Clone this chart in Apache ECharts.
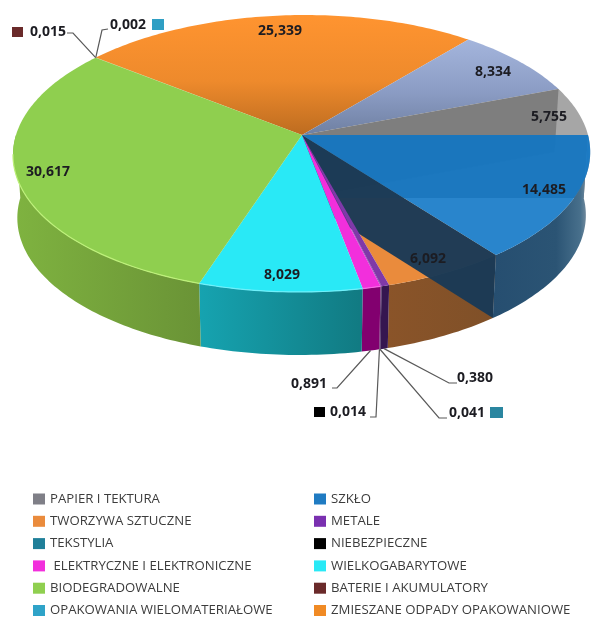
<!DOCTYPE html>
<html><head><meta charset="utf-8">
<style>html,body{margin:0;padding:0;background:#fff}#c{width:591px;height:617px}</style>
<script src="https://cdn.jsdelivr.net/npm/echarts@6/dist/echarts.min.js"></script>
</head><body><div id="c"></div>
<script>
// DATA, clockwise from 3 o'clock
var categories = ['SZKŁO','TWORZYWA SZTUCZNE','METALE','TEKSTYLIA','NIEBEZPIECZNE',' ELEKTRYCZNE I ELEKTRONICZNE','WIELKOGABARYTOWE','BIODEGRADOWALNE','BATERIE I AKUMULATORY','OPAKOWANIA WIELOMATERIAŁOWE','ZMIESZANE ODPADY OPAKOWANIOWE','POZOSTAŁE','PAPIER I TEKTURA'];
var values = [14.485,6.092,0.380,0.041,0.014,0.891,8.029,30.617,0.015,0.002,25.339,8.334,5.755];
var legendLeft = ['PAPIER I TEKTURA','TWORZYWA SZTUCZNE','TEKSTYLIA',' ELEKTRYCZNE I ELEKTRONICZNE','BIODEGRADOWALNE','OPAKOWANIA WIELOMATERIAŁOWE'];
var legendRight = ['SZKŁO','METALE','NIEBEZPIECZNE','WIELKOGABARYTOWE','BATERIE I AKUMULATORY','ZMIESZANE ODPADY OPAKOWANIOWE'];
var legendColors = ['#1f7bc2','#ea8b3c','#7a30b0','#1f7f99','#000000','#f22fdc','#29e9f6','#8fcf4f','#6a2a2a','#2fa3c8','#f08a24','#8fa0c8','#7f7f87'];

// STYLE / LAYOUT
var G = echarts.graphic.LinearGradient;
function h(a,b){return new G(0,0,1,0,[{offset:0,color:a},{offset:1,color:b}]);}
function v(a,b,c){return new G(0,0,0,1,[{offset:0,color:a},{offset:.55,color:b},{offset:1,color:c}]);}
var topFill = {
 0:'rgba(18,120,198,0.9)',1:'#ea8b3c',2:'#7f39a8',3:'#7f39a8',4:'#7f39a8',5:'#f22fdc',6:'#29e9f6',7:'#8fcf4f',8:'#8fcf4f',9:'#ff9430',
 10:v('#ff9430','#ee8a2c','#bd6c20'),11:v('#a4b5dc','#8b9cc4','#6f80a2'),12:'#a6a6a6'};
var wallFill = {
 0:new G(0,0,1,0,[{offset:0,color:'#264e70'},{offset:.65,color:'#2b5474'},{offset:.9,color:'#48708c'},{offset:.98,color:'#7f93a3'},{offset:1,color:'#a0acb6'}]),
 1:h('#8a5429','#7f5028'),2:'#351650',3:'#351650',4:'#351650',5:'#82006f',6:h('#16a3b0','#117a82'),7:h('#7fb340','#6a9336')};
var rimLight = {6:'#6ff0fa',7:'#bdf07a',5:'#f86ce8'};
var P = {cx:302,cy:135,A:286,B:136,k:0.1336,shear:-3,depth:63,base:0.985};
var labelLayout = {
 10:{x:280,y:31},11:{x:493,y:72},12:{x:549,y:117},0:{x:544,y:190},1:{x:428,y:259},6:{x:282,y:275},7:{x:48,y:172},
 8:{x:48,y:32,via:[[73,33],[67,33]],sq:[12,27,11,10],sqc:'#6a2a2a',rim:'top'},
 9:{x:128,y:25,via:[[102,30],[108,29]],sq:[152,19,12,11],sqc:'#2f9fc4',rim:'top'},
 5:{x:309,y:384,via:[[337,388],[332,388]],rim:'base'},
 4:{x:348,y:412,via:[[376,417],[370,417]],sq:[314,407,11,10],sqc:'#000000',rim:'base'},
 2:{x:475,y:378,via:[[449,383],[457,383]],rim:'base'},
 3:{x:467,y:413,via:[[439,418],[447,418]],sq:[490,407,13,11],sqc:'#2a86a0',rim:'base'}
};

var total = values.reduce(function(a,b){return a+b;},0);
var starts=[],run=0; values.forEach(function(x){starts.push(run/total*360);run+=x;});
function pt(deg,low){
 var t=deg*Math.PI/180,u=Math.cos(t),w=Math.sin(t),d=1-P.k*w,s=low?P.base:1;
 return [P.cx+P.shear*w+s*P.A*u/d, P.cy+(low?P.depth:0)+P.B*w/d];
}
function apex(low){return [P.cx,P.cy+(low?P.depth:0)];}
function arc(a,b,low){var o=[],n=Math.max(2,Math.ceil(Math.abs(b-a)));for(var i=0;i<=n;i++)o.push(pt(a+(b-a)*i/n,low));return o;}
function poly(points,fill,z2){return {type:'polygon',shape:{points:points},style:{fill:fill,stroke:null},z2:z2,silent:true};}
function radial(deg,fill,z2){return poly([apex(false),pt(deg,false),pt(deg,true),apex(true)],fill,z2);}

function renderSlice(i){
 return function(){
  var a=starts[i],b=a+values[i]/total*360,kids=[];
  var topZ = i===0?20:((i>=2&&i<=7)?16:10);
  kids.push(poly([apex(false)].concat(arc(a,b,false)),topFill[i],topZ));
  if(i===12) kids.push(radial(a,'rgba(100,100,100,0.6)',13));
  if(i===0){
    kids.push(radial(a,'#787878',12));
    kids.push(radial(b,'rgba(26,58,86,0.97)',15));
  }
  var e=Math.min(b,180);
  if(a<180&&wallFill[i]){
    kids.push(poly(arc(a,e,false).concat(arc(e,a,true)),wallFill[i],i===0?19:9));
  }
  if(rimLight[i]){
    kids.push({type:'polyline',shape:{points:arc(a,Math.min(b,172),false)},style:{stroke:rimLight[i],lineWidth:1.2,fill:null},z2:22,silent:true});
  }
  return {type:'group',children:kids};
 };
}
function renderLabels(){
 var kids=[];
 Object.keys(labelLayout).forEach(function(key){
  var i=+key,L=labelLayout[key],mid=starts[i]+values[i]/total*180;
  kids.push({type:'text',x:L.x,y:L.y,style:{text:values[i].toFixed(3).replace('.',','),font:'bold 14px "Open Sans"',fill:'#1c1c22',align:'center',verticalAlign:'middle'},z2:40,silent:true});
  if(L.via){
    kids.push({type:'polyline',shape:{points:[pt(mid,L.rim==='base')].concat(L.via)},style:{stroke:'#595959',lineWidth:1.2,fill:null},z2:30,silent:true});
  }
  if(L.sq){
    kids.push({type:'rect',shape:{x:L.sq[0],y:L.sq[1],width:L.sq[2],height:L.sq[3]},style:{fill:L.sqc},z2:30,silent:true});
  }
 });
 return {type:'group',children:kids};
}
var series = categories.map(function(name,i){
 return {type:'custom',name:name,coordinateSystem:'none',data:[values[i]],itemStyle:{color:legendColors[i]},renderItem:renderSlice(i),animation:false,silent:true};
});
series.push({type:'custom',name:'etykiety',coordinateSystem:'none',data:[1],renderItem:renderLabels,animation:false,silent:true});

function legend(names,left,width){
 return {orient:'vertical',left:left,top:490,width:width,height:400,data:names,icon:'rect',itemWidth:12,itemHeight:11,itemGap:4.3,selectedMode:false,padding:0,
  textStyle:{fontFamily:'Open Sans',fontSize:13.2,color:'#3c3c3c',lineHeight:18},formatter:function(n){return n;}};
}
var chart = echarts.init(document.getElementById('c'),null,{renderer:'canvas'});
chart.setOption({animation:false,backgroundColor:'#fff',legend:[legend(legendLeft,33,270),legend(legendRight,314,277)],series:series});
</script></body></html>
